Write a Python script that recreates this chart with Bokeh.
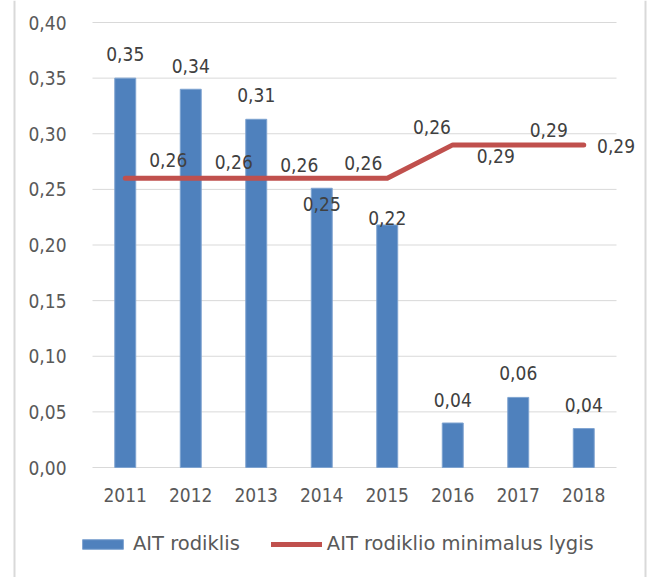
from bokeh.plotting import figure
from bokeh.models import (ColumnDataSource, LabelSet, Legend, LegendItem, FixedTicker,
                          CustomJSTickFormatter, Range1d, Span)
from bokeh.core.properties import value
from bokeh.embed import file_html
from bokeh.resources import INLINE

# ---- data ----
years = ["2011", "2012", "2013", "2014", "2015", "2016", "2017", "2018"]
ait = [0.350, 0.340, 0.313, 0.251, 0.218, 0.040, 0.063, 0.035]
ait_min = [0.26, 0.26, 0.26, 0.26, 0.26, 0.29, 0.29, 0.29]
ait_text = ["0,35", "0,34", "0,31", "0,25", "0,22", "0,04", "0,06", "0,04"]
min_text = ["0,26", "0,26", "0,26", "0,26", "0,26", "0,29", "0,29", "0,29"]
y_ticks = [0.0, 0.05, 0.10, 0.15, 0.20, 0.25, 0.30, 0.35, 0.40]

# ---- label placement (screen px) ----
bar_dy = [24, 23, 24, -16, 7, 23, 24, 24]
line_dx = [43, 43, 43, 41.5, 44.7, 43, 30.5, 32.3]
line_dy = [18, 16, 13, 15, 51, -11, 15, -1]

# ---- layout geometry (px) ----
W, H = 652, 577
CAT_PX = 65.5          # width of one category slot
X0_PX = 124.75         # centre of first category
Y0_PX = 467.0          # value 0
Y_PX_PER_UNIT = 1112.5

def x_at(px):
    return (px - X0_PX) / CAT_PX

def y_at(py):
    return (Y0_PX - py) / Y_PX_PER_UNIT

FONT = "DejaVu Sans Condensed"
LEGEND_FONT = "DejaVu Sans"
BLUE = "#4F81BD"
RED = "#C0504D"
GRID = "#D9D9D9"

xs = list(range(len(years)))
bar_src = ColumnDataSource(dict(x=xs, top=ait, label=ait_text, dy=bar_dy))
line_src = ColumnDataSource(dict(x=xs, y=ait_min, label=min_text, dx=line_dx, dy=line_dy))

p = figure(x_range=Range1d(x_at(0), x_at(W)), y_range=Range1d(y_at(H), y_at(0)),
           width=W, height=H, output_backend="svg", toolbar_location=None,
           min_border=0, min_border_left=0, min_border_right=0,
           min_border_top=0, min_border_bottom=0)
p.outline_line_color = None
p.background_fill_color = "white"
p.border_fill_color = "white"
p.xgrid.visible = False
p.ygrid.visible = False

# chart-area border (left / right)
for px in (14, 645):
    p.add_layout(Span(location=x_at(px), dimension="height", line_color=GRID, line_width=2))

# horizontal gridlines across the category span
n = len(years)
p.segment(x0=[-0.5] * len(y_ticks), y0=y_ticks, x1=[n - 0.5] * len(y_ticks), y1=y_ticks,
          line_color=GRID, line_width=1)

bars = p.vbar(x="x", top="top", width=0.32, source=bar_src, fill_color=BLUE,
              line_color="#7EA3D0", line_width=1)
line = p.line(x="x", y="y", source=line_src, line_color=RED, line_width=5,
              line_cap="round", line_join="round")

ya = p.yaxis[0]
ya.fixed_location = -0.5
ya.ticker = FixedTicker(ticks=y_ticks)
ya.formatter = CustomJSTickFormatter(code="return tick.toFixed(2).replace('.', ',');")
ya.axis_line_color = None
ya.major_tick_line_color = None
ya.minor_tick_line_color = None
ya.major_label_standoff = 20
ya.major_label_text_font = FONT
ya.major_label_text_font_size = "19px"
ya.major_label_text_color = "#595959"

xa = p.xaxis[0]
xa.fixed_location = 0
xa.ticker = FixedTicker(ticks=xs)
xa.formatter = CustomJSTickFormatter(args=dict(labels=years),
                                     code="return labels[Math.round(tick)] || '';")
xa.axis_line_color = None
xa.major_tick_line_color = None
xa.minor_tick_line_color = None
xa.major_label_standoff = 14
xa.major_label_text_font = FONT
xa.major_label_text_font_size = "19px"
xa.major_label_text_color = "#595959"

bar_labels = LabelSet(x="x", y="top", text="label", source=bar_src, y_offset="dy",
                      text_align="center", text_baseline="middle",
                      text_font=value(FONT), text_font_size="19px", text_color="#404040")
line_labels = LabelSet(x="x", y="y", text="label", source=line_src, x_offset="dx", y_offset="dy",
                       text_align="center", text_baseline="middle",
                       text_font=value(FONT), text_font_size="19px", text_color="#404040")
p.add_layout(bar_labels)
p.add_layout(line_labels)

legend = Legend(items=[LegendItem(label="AIT rodiklis", renderers=[bars]),
                       LegendItem(label="AIT rodiklio minimalus lygis", renderers=[line])],
                orientation="horizontal", location=(77, 22),
                glyph_width=51, glyph_height=12, label_standoff=5, spacing=31,
                padding=0, margin=0, border_line_color=None, background_fill_alpha=0,
                label_text_font=LEGEND_FONT, label_text_font_size="19.5px",
                label_text_color="#595959")
p.add_layout(legend)

open("out.html", "w").write(file_html(p, INLINE))
